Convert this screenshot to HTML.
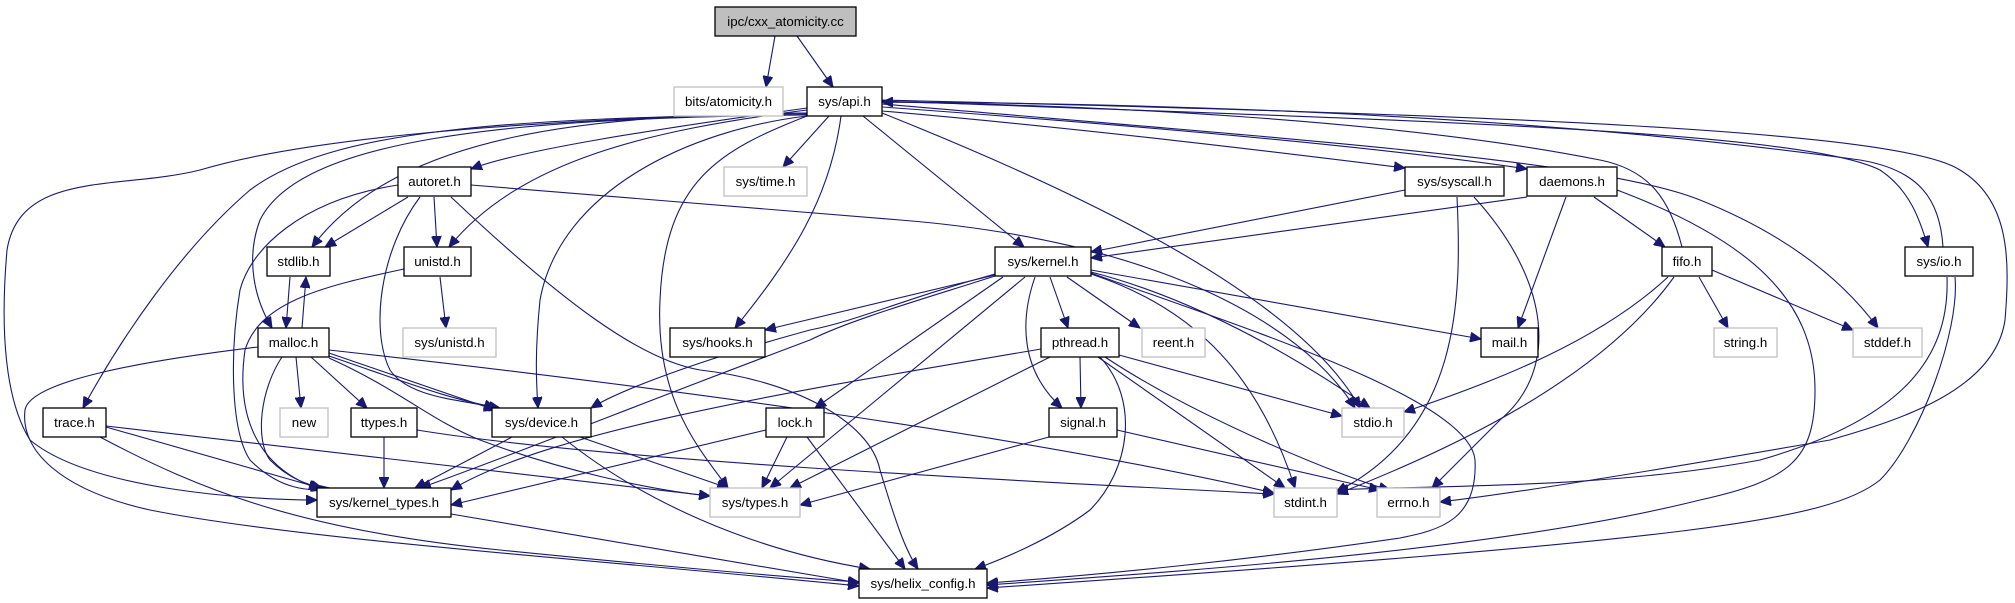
<!DOCTYPE html>
<html><head><meta charset="utf-8"><style>
html,body{margin:0;padding:0;background:#fff;}
svg{display:block;}
text{font-family:"Liberation Sans",sans-serif;font-size:13.3px;fill:#000;}
</style></head><body>
<svg width="2015" height="603" viewBox="0 0 2015 603" xmlns="http://www.w3.org/2000/svg">
<defs>
<marker id="a" markerWidth="12" markerHeight="10" refX="11" refY="5" orient="auto" markerUnits="userSpaceOnUse">
<path d="M0,0 L11,5 L0,10 z" fill="#191970" stroke="#191970"/>
</marker>
</defs>
<g fill="none" stroke="#191970" stroke-width="1.1" marker-end="url(#a)">
<path d="M775,36 L766,87"/>
<path d="M797,36 L833,87"/>
<path d="M829,116 L783,167"/>
<path d="M841,116 C830,200 790,260 735,328"/>
<path d="M863,116 L1024,247"/>
<path d="M807,116 C720,150 665,180 660,300 C655,400 700,450 728,488"/>
<path d="M882,113 C1100,200 1300,300 1360,408"/>
<path d="M882,111 C1100,130 1300,155 1405,168"/>
<path d="M882,107 C1200,130 1400,150 1527,169"/>
<path d="M882,104 C1300,140 1600,160 1700,200 C1800,240 1850,290 1878,328"/>
<path d="M882,101 C1400,120 1800,130 1880,170 C1910,190 1920,220 1928,247"/>
<path d="M882,100 C1500,115 1900,130 1960,170 C2010,200 2010,260 2005,320 C1995,390 1900,420 1830,440 C1600,480 1500,495 1440,502"/>
<path d="M1682,247 C1670,200 1650,170 1600,160 C1400,120 1100,105 882,102"/>
<path d="M1943,247 C1940,200 1920,170 1860,160 C1500,110 1100,103 882,102"/>
<path d="M807,108 C650,130 520,150 471,169"/>
<path d="M807,110 C650,130 520,160 449,247"/>
<path d="M807,113 C600,115 400,130 312,247"/>
<path d="M807,115 C500,118 300,140 260,220 C245,260 255,300 272,328"/>
<path d="M807,114 C500,118 330,130 250,190 C180,250 120,340 83,408"/>
<path d="M807,113 C500,120 300,140 200,170 C120,190 20,170 7,250 C0,330 5,400 30,440 C90,490 250,500 317,500"/>
<path d="M807,116 C690,130 560,190 540,300 C535,350 536,380 538,408"/>
<path d="M408,197 L325,247"/>
<path d="M434,197 L437,247"/>
<path d="M398,185 C300,200 250,250 240,290 C230,350 230,430 250,460 C280,490 310,492 330,488"/>
<path d="M420,197 C380,250 370,330 390,370 C410,400 470,400 495,408"/>
<path d="M451,197 C560,300 640,360 700,370 C790,380 870,420 880,470 C895,520 905,550 918,569"/>
<path d="M471,185 L900,220 C1150,240 1300,320 1355,408"/>
<path d="M440,277 L446,328"/>
<path d="M404,269 C330,285 260,300 245,350 C235,420 260,470 322,490"/>
<path d="M290,277 L286,328"/>
<path d="M302,328 L306,277"/>
<path d="M296,357 L301,408"/>
<path d="M311,357 L367,408"/>
<path d="M329,353 L495,410"/>
<path d="M329,356 C400,380 450,400 500,408"/>
<path d="M329,358 C400,390 430,420 480,440 C560,470 650,490 710,496"/>
<path d="M329,350 C600,380 1000,430 1274,493"/>
<path d="M282,357 C260,390 255,440 270,460 C290,480 310,485 322,488"/>
<path d="M258,347 C150,360 30,380 25,410 C20,450 60,490 150,510 C300,540 600,560 859,586"/>
<path d="M106,427 L320,488"/>
<path d="M106,426 L710,496"/>
<path d="M100,437 C200,490 300,530 500,550 C700,570 800,578 859,582"/>
<path d="M384,437 L384,488"/>
<path d="M417,430 C600,460 1000,480 1274,494"/>
<path d="M512,437 L415,488"/>
<path d="M580,437 L728,488"/>
<path d="M562,437 C640,500 750,550 870,569"/>
<path d="M451,514 L859,583"/>
<path d="M995,275 L765,330"/>
<path d="M995,274 C900,300 860,320 810,330 C700,360 620,390 591,408"/>
<path d="M995,276 C920,300 850,320 810,340 C650,400 500,460 420,488"/>
<path d="M1003,277 L815,408"/>
<path d="M1025,277 L770,488"/>
<path d="M1035,277 C1020,320 1020,370 1062,408"/>
<path d="M1050,277 L1068,328"/>
<path d="M1067,277 L1140,328"/>
<path d="M1091,270 L1481,339"/>
<path d="M1091,272 C1200,300 1300,360 1370,408"/>
<path d="M1091,274 C1200,310 1260,380 1295,488"/>
<path d="M1091,273 C1250,330 1470,400 1475,460 C1478,520 1440,530 1400,538 C1250,560 1100,575 987,583"/>
<path d="M1041,349 C800,390 550,430 451,490"/>
<path d="M1050,357 L790,488"/>
<path d="M1080,357 L1081,408"/>
<path d="M1100,357 C1140,400 1130,470 1090,510 C1050,540 1000,560 975,569"/>
<path d="M1098,357 L1285,488"/>
<path d="M1105,357 C1200,420 1350,480 1390,490"/>
<path d="M1119,355 L1342,416"/>
<path d="M766,430 L451,505"/>
<path d="M787,437 L762,488"/>
<path d="M807,437 L905,569"/>
<path d="M1049,437 L800,505"/>
<path d="M1117,430 L1380,490"/>
<path d="M1405,190 L1091,252"/>
<path d="M1457,197 C1462,300 1460,430 1336,492"/>
<path d="M1474,197 C1550,280 1560,370 1500,420 C1460,460 1440,480 1432,488"/>
<path d="M1527,197 L1091,258"/>
<path d="M1566,197 L1518,328"/>
<path d="M1594,197 L1665,247"/>
<path d="M1617,190 C1750,240 1815,300 1815,390 C1815,460 1790,480 1700,500 C1500,550 1200,570 987,585"/>
<path d="M1668,277 C1600,340 1500,380 1404,412"/>
<path d="M1674,277 C1600,380 1450,450 1337,494"/>
<path d="M1699,277 L1728,328"/>
<path d="M1712,270 L1853,330"/>
<path d="M1947,277 C1950,360 1900,420 1760,460 C1600,490 1420,485 1337,490"/>
<path d="M1955,277 C1960,330 1920,440 1880,480 C1830,520 1700,540 987,588"/>
</g>
<g stroke-width="1.3">
<rect x="715" y="7" width="141" height="29" fill="#bfbfbf" stroke="#000"/>
<rect x="674" y="87" width="109" height="29" fill="#fff" stroke="#bfbfbf"/>
<rect x="807" y="87" width="75" height="29" fill="#fff" stroke="#000"/>
<rect x="724" y="167" width="83" height="29" fill="#fff" stroke="#bfbfbf"/>
<rect x="398" y="167" width="73" height="29" fill="#fff" stroke="#000"/>
<rect x="1405" y="167" width="99" height="29" fill="#fff" stroke="#000"/>
<rect x="1527" y="167" width="90" height="29" fill="#fff" stroke="#000"/>
<rect x="267" y="247" width="63" height="29" fill="#fff" stroke="#000"/>
<rect x="404" y="247" width="67" height="29" fill="#fff" stroke="#000"/>
<rect x="995" y="247" width="96" height="29" fill="#fff" stroke="#000"/>
<rect x="1662" y="247" width="50" height="29" fill="#fff" stroke="#000"/>
<rect x="1905" y="247" width="68" height="29" fill="#fff" stroke="#000"/>
<rect x="258" y="328" width="71" height="29" fill="#fff" stroke="#000"/>
<rect x="403" y="328" width="93" height="29" fill="#fff" stroke="#bfbfbf"/>
<rect x="670" y="328" width="95" height="29" fill="#fff" stroke="#000"/>
<rect x="1041" y="328" width="78" height="29" fill="#fff" stroke="#000"/>
<rect x="1142" y="328" width="63" height="29" fill="#fff" stroke="#bfbfbf"/>
<rect x="1481" y="328" width="57" height="29" fill="#fff" stroke="#000"/>
<rect x="1714" y="328" width="63" height="29" fill="#fff" stroke="#bfbfbf"/>
<rect x="1853" y="328" width="69" height="29" fill="#fff" stroke="#bfbfbf"/>
<rect x="43" y="408" width="63" height="29" fill="#fff" stroke="#000"/>
<rect x="280" y="408" width="48" height="29" fill="#fff" stroke="#bfbfbf"/>
<rect x="351" y="408" width="66" height="29" fill="#fff" stroke="#000"/>
<rect x="492" y="408" width="99" height="29" fill="#fff" stroke="#000"/>
<rect x="766" y="408" width="58" height="29" fill="#fff" stroke="#000"/>
<rect x="1049" y="408" width="68" height="29" fill="#fff" stroke="#000"/>
<rect x="1342" y="408" width="62" height="29" fill="#fff" stroke="#bfbfbf"/>
<rect x="317" y="488" width="134" height="29" fill="#fff" stroke="#000"/>
<rect x="710" y="488" width="90" height="29" fill="#fff" stroke="#bfbfbf"/>
<rect x="1274" y="488" width="63" height="29" fill="#fff" stroke="#bfbfbf"/>
<rect x="1377" y="488" width="63" height="29" fill="#fff" stroke="#bfbfbf"/>
<rect x="859" y="569" width="128" height="29" fill="#fff" stroke="#000"/>
</g>
<g text-anchor="middle">
<text x="785.5" y="26">ipc/cxx_atomicity.cc</text>
<text x="728.5" y="106">bits/atomicity.h</text>
<text x="844.5" y="106">sys/api.h</text>
<text x="765.5" y="186">sys/time.h</text>
<text x="434.5" y="186">autoret.h</text>
<text x="1454.5" y="186">sys/syscall.h</text>
<text x="1572" y="186">daemons.h</text>
<text x="298.5" y="266">stdlib.h</text>
<text x="437.5" y="266">unistd.h</text>
<text x="1043" y="266">sys/kernel.h</text>
<text x="1687" y="266">fifo.h</text>
<text x="1939" y="266">sys/io.h</text>
<text x="293.5" y="347">malloc.h</text>
<text x="449.5" y="347">sys/unistd.h</text>
<text x="717.5" y="347">sys/hooks.h</text>
<text x="1080" y="347">pthread.h</text>
<text x="1173.5" y="347">reent.h</text>
<text x="1509.5" y="347">mail.h</text>
<text x="1745.5" y="347">string.h</text>
<text x="1887.5" y="347">stddef.h</text>
<text x="74.5" y="427">trace.h</text>
<text x="304" y="427">new</text>
<text x="384" y="427">ttypes.h</text>
<text x="541.5" y="427">sys/device.h</text>
<text x="795" y="427">lock.h</text>
<text x="1083" y="427">signal.h</text>
<text x="1373" y="427">stdio.h</text>
<text x="384" y="507">sys/kernel_types.h</text>
<text x="755" y="507">sys/types.h</text>
<text x="1305.5" y="507">stdint.h</text>
<text x="1408.5" y="507">errno.h</text>
<text x="923" y="588">sys/helix_config.h</text>
</g>
</svg>
</body></html>
